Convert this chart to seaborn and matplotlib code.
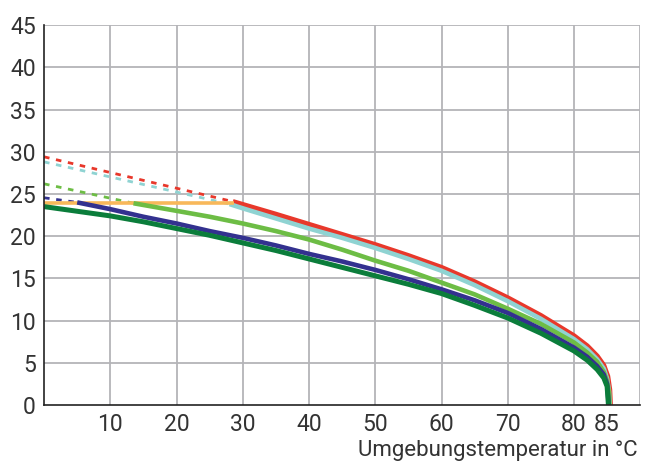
import matplotlib
matplotlib.use("Agg")
import matplotlib.pyplot as plt
import seaborn as sns
import pandas as pd
from matplotlib.ticker import MultipleLocator, FixedLocator

# --- data ---
red_dash_x = [0, 28.5]
red_dash_y = [29.4, 24.1]
red_x = [28.5, 35, 40, 45, 50, 55, 60, 65, 70, 75, 80, 82, 83.5, 84.5, 85.1, 85.4, 85.5]
red_y = [24.1, 22.6, 21.4, 20.2, 19.0, 17.7, 16.3, 14.6, 12.7, 10.6, 8.2, 7.0, 5.8, 4.7, 3.4, 1.8, 0]

cyan_dash_x = [0, 28]
cyan_dash_y = [28.8, 23.8]
cyan_x = [28, 30, 35, 40, 45, 50, 55, 60, 65, 70, 75, 80, 82, 83.5, 84.5, 85.0, 85.3, 85.4]
cyan_y = [23.8, 23.3, 22.1, 20.9, 19.8, 18.6, 17.3, 15.9, 14.2, 12.3, 10.2, 7.8, 6.6, 5.4, 4.3, 3.1, 1.6, 0]

lgreen_dash_x = [0, 13.5]
lgreen_dash_y = [26.2, 23.9]
lgreen_x = [13.5, 20, 25, 30, 35, 40, 45, 50, 55, 60, 65, 70, 75, 80, 82, 83.5, 84.5, 85.0, 85.3, 85.35]
lgreen_y = [23.9, 23.0, 22.3, 21.5, 20.6, 19.6, 18.4, 17.1, 15.9, 14.5, 13.1, 11.4, 9.6, 7.4, 6.2, 5.1, 3.9, 2.8, 1.3, 0]

blue_dash_x = [0, 5]
blue_dash_y = [24.55, 24.0]
blue_x = [5, 10, 15, 20, 25, 30, 35, 40, 45, 50, 55, 60, 65, 70, 75, 80, 82, 83.5, 84.5, 85.0, 85.25]
blue_y = [24.0, 23.2, 22.3, 21.5, 20.6, 19.8, 18.9, 17.9, 17.0, 16.0, 14.9, 13.7, 12.4, 10.9, 9.0, 6.8, 5.7, 4.6, 3.6, 2.5, 0]

orange_x = [0, 28.7]
orange_y = [23.9, 23.9]

dgreen_x = [0, 10, 15, 20, 25, 30, 35, 40, 45, 50, 55, 60, 65, 70, 75, 80, 82, 83.5, 84.5, 85.0, 85.2]
dgreen_y = [23.5, 22.4, 21.7, 20.9, 20.1, 19.2, 18.3, 17.3, 16.3, 15.3, 14.3, 13.2, 11.8, 10.3, 8.5, 6.4, 5.3, 4.2, 3.2, 2.2, 0]

x_ticks = [10, 20, 30, 40, 50, 60, 70, 80, 85]
y_ticks = [0, 5, 10, 15, 20, 25, 30, 35, 40, 45]
x_label = "Umgebungstemperatur in °C"

RED = "#e8382b"
CYAN = "#8fd3d2"
LGREEN = "#6dbd45"
BLUE = "#33318f"
DGREEN = "#0b7d3b"
ORANGE = "#f8b85a"

sns.set_style("white")
plt.rcParams["font.family"] = ["Roboto", "DejaVu Sans"]

fig = plt.figure(figsize=(6.48, 4.66), dpi=100)
ax = fig.add_axes([0.068, 0.131, 0.92, 0.815])

def seg(x, y, color, lw, dashed=False):
    df = pd.DataFrame({"x": x, "y": y})
    sns.lineplot(data=df, x="x", y="y", ax=ax, color=color, lw=lw,
                 sort=False, estimator=None,
                 linestyle=(0, (2.0, 2.4)) if dashed else "-",
                 solid_capstyle="butt", solid_joinstyle="round")

# dashed extrapolations
seg(red_dash_x, red_dash_y, RED, 2.0, True)
seg(cyan_dash_x, cyan_dash_y, CYAN, 2.0, True)
seg(lgreen_dash_x, lgreen_dash_y, LGREEN, 2.0, True)
seg(blue_dash_x, blue_dash_y, BLUE, 2.0, True)

# solid curves
seg(red_x, red_y, RED, 3.6)
seg(cyan_x, cyan_y, CYAN, 3.3)
seg(orange_x, orange_y, ORANGE, 2.6)
seg(lgreen_x, lgreen_y, LGREEN, 3.3)
seg(blue_x, blue_y, BLUE, 3.3)
seg(dgreen_x, dgreen_y, DGREEN, 3.6)

ax.set_xlim(0, 90)
ax.set_ylim(0, 45)
ax.xaxis.set_major_locator(FixedLocator(x_ticks))
ax.set_xticklabels([str(t) for t in x_ticks])
ax.xaxis.set_minor_locator(MultipleLocator(2))
ax.yaxis.set_major_locator(FixedLocator(y_ticks))
ax.set_yticklabels([str(t) for t in y_ticks])
ax.yaxis.set_minor_locator(MultipleLocator(1))

# grid: every 10 on x (plus 90), every 5 on y
for gx in [10, 20, 30, 40, 50, 60, 70, 80, 90]:
    ax.axvline(gx, color="#b4b4b8", lw=1.3, zorder=0)
for gy in y_ticks[1:]:
    ax.axhline(gy, color="#b4b4b8", lw=1.3, zorder=0)

for s in ["top", "right"]:
    ax.spines[s].set_visible(False)
for s in ["left", "bottom"]:
    ax.spines[s].set_color("#222222")
    ax.spines[s].set_linewidth(1.2)

ax.tick_params(axis="both", which="major", direction="out", length=4,
               width=1, color="#222222", labelsize=16.5, labelcolor="#333333", pad=2)
ax.tick_params(axis="both", which="minor", direction="out", length=2,
               width=0.8, color="#555555")
ax.tick_params(axis="x", which="major", pad=2)

ax.set_ylabel("")
ax.set_xlabel(x_label, fontsize=16, color="#333333", ha="right", x=0.995, labelpad=3)

fig.savefig("out.png", dpi=100)
